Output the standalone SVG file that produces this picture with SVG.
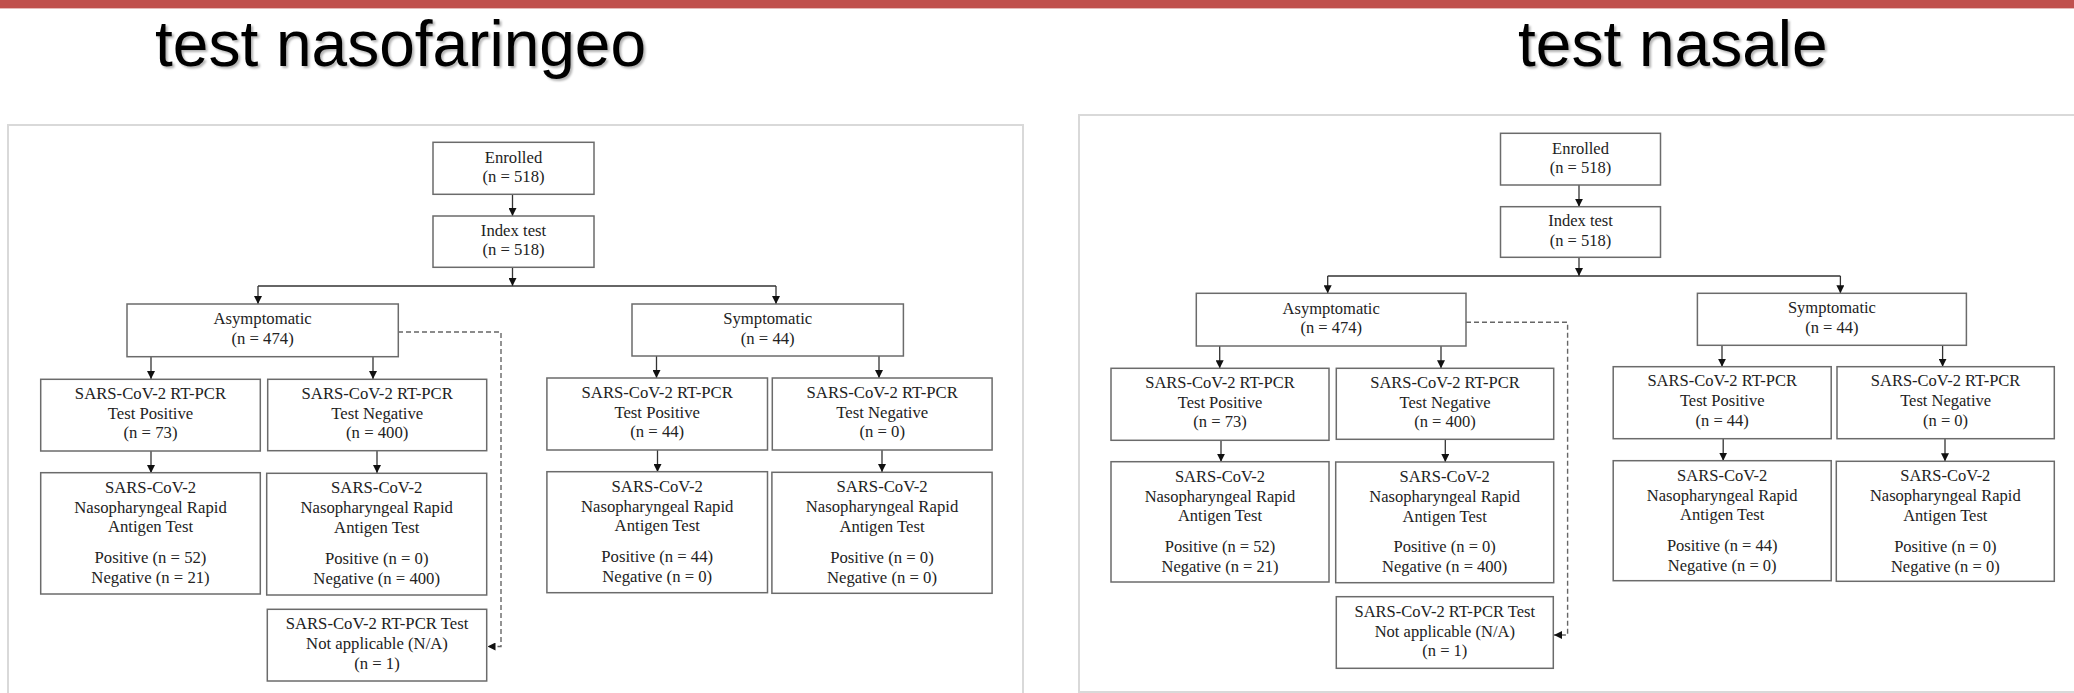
<svg xmlns="http://www.w3.org/2000/svg" width="2074" height="693" viewBox="0 0 2074 693">
<defs>
<style>
.title{font-family:"Liberation Sans",Arial,sans-serif;font-size:64px;fill:#000;}
.frame{fill:none;stroke:#d9d9d9;stroke-width:2;}
.box{fill:#fff;stroke:#6b6b6b;stroke-width:1.5;}
.t{font-family:"Liberation Serif","Times New Roman",serif;font-size:16.7px;fill:#222;text-anchor:middle;}
.tr{font-family:"Liberation Serif","Times New Roman",serif;font-size:16.5px;fill:#222;text-anchor:middle;}
.ln{fill:none;stroke:#333;stroke-width:1.3;}
.dash{fill:none;stroke:#666;stroke-width:1.4;stroke-dasharray:5 3;}
</style>
<marker id="ah" viewBox="0 0 10 10" refX="10" refY="5" markerWidth="8" markerHeight="8" markerUnits="userSpaceOnUse" orient="auto">
<path d="M0,0 L10,5 L0,10 Z" fill="#111"/>
</marker>
<filter id="sh" x="-5%" y="-20%" width="110%" height="150%">
<feDropShadow dx="2" dy="2" stdDeviation="1.2" flood-color="#000" flood-opacity="0.3"/>
</filter>
</defs>
<rect x="0" y="0" width="2074" height="8" fill="#C0504D"/>
<rect x="0" y="8" width="2074" height="1" fill="#E6B9B8"/>
<text class="title" x="155" y="66" filter="url(#sh)">test nasofaringeo</text>
<text class="title" x="1518" y="66" filter="url(#sh)">test nasale</text>
<rect class="frame" x="8" y="125" width="1015" height="600"/>
<rect class="frame" x="1079" y="115" width="1100" height="577"/>

<g id="connectors">
<path class="ln" d="M512.5,194 V216" marker-end="url(#ah)"/>
<path class="ln" d="M512.5,267 V286" marker-end="url(#ah)"/>
<path class="ln" d="M258,286 H776"/>
<path class="ln" d="M258,286 V304" marker-end="url(#ah)"/>
<path class="ln" d="M776,286 V304" marker-end="url(#ah)"/>
<path class="ln" d="M151,356 V379" marker-end="url(#ah)"/>
<path class="ln" d="M373,356 V379" marker-end="url(#ah)"/>
<path class="ln" d="M656.5,356 V378" marker-end="url(#ah)"/>
<path class="ln" d="M879,356 V378" marker-end="url(#ah)"/>
<path class="ln" d="M151,451 V473" marker-end="url(#ah)"/>
<path class="ln" d="M377,451 V473" marker-end="url(#ah)"/>
<path class="ln" d="M657.5,450 V472" marker-end="url(#ah)"/>
<path class="ln" d="M882,450 V472" marker-end="url(#ah)"/>
<path class="dash" d="M398,332 H501 V646.5 H487.5" marker-end="url(#ah)"/>

<path class="ln" d="M1579,185 V206.7" marker-end="url(#ah)"/>
<path class="ln" d="M1579,257.3 V276" marker-end="url(#ah)"/>
<path class="ln" d="M1327.7,276 H1840.4"/>
<path class="ln" d="M1327.7,276 V293.3" marker-end="url(#ah)"/>
<path class="ln" d="M1840.4,276 V293.3" marker-end="url(#ah)"/>
<path class="ln" d="M1219.7,346 V368.3" marker-end="url(#ah)"/>
<path class="ln" d="M1441,346 V368.3" marker-end="url(#ah)"/>
<path class="ln" d="M1722,345.3 V366.7" marker-end="url(#ah)"/>
<path class="ln" d="M1942.6,345.3 V366.7" marker-end="url(#ah)"/>
<path class="ln" d="M1221,440.3 V461.7" marker-end="url(#ah)"/>
<path class="ln" d="M1445.3,439.3 V462" marker-end="url(#ah)"/>
<path class="ln" d="M1723.2,438.7 V460.7" marker-end="url(#ah)"/>
<path class="ln" d="M1945,438.7 V461.3" marker-end="url(#ah)"/>
<path class="dash" d="M1466,322.3 H1567.6 V635 H1554" marker-end="url(#ah)"/>
</g>

<!-- Left diagram -->
<g id="L-enrolled"><rect class="box" x="433" y="142.3" width="161" height="52"/>
<text class="t" x="513.5" y="162.5">Enrolled</text><text class="t" x="513.5" y="182">(n = 518)</text></g>
<g id="L-index"><rect class="box" x="433" y="216" width="161" height="51.3"/>
<text class="t" x="513.5" y="235.7">Index test</text><text class="t" x="513.5" y="255.2">(n = 518)</text></g>
<g id="L-asym"><rect class="box" x="127" y="304" width="271.3" height="52.7"/>
<text class="t" x="262.6" y="324.3">Asymptomatic</text><text class="t" x="262.6" y="343.8">(n = 474)</text></g>
<g id="L-sym"><rect class="box" x="632" y="304" width="271.4" height="52"/>
<text class="t" x="767.7" y="324">Symptomatic</text><text class="t" x="767.7" y="343.5">(n = 44)</text></g>

<g id="L-pcr-pos"><rect class="box" x="40.7" y="379.3" width="219.6" height="71.7"/>
<text class="t" x="150.5" y="398.8">SARS-CoV-2 RT-PCR</text><text class="t" x="150.5" y="418.8">Test Positive</text><text class="t" x="150.5" y="438.3">(n = 73)</text></g>
<g id="L-pcr-neg"><rect class="box" x="267.7" y="379.3" width="219" height="71.4"/>
<text class="t" x="377.2" y="398.8">SARS-CoV-2 RT-PCR</text><text class="t" x="377.2" y="418.8">Test Negative</text><text class="t" x="377.2" y="438.3">(n = 400)</text></g>
<g id="L-sym-pcr-pos"><rect class="box" x="546.9" y="378" width="220.6" height="72"/>
<text class="t" x="657.2" y="397.5">SARS-CoV-2 RT-PCR</text><text class="t" x="657.2" y="417.5">Test Positive</text><text class="t" x="657.2" y="437">(n = 44)</text></g>
<g id="L-sym-pcr-neg"><rect class="box" x="772.3" y="378" width="219.8" height="72"/>
<text class="t" x="882.2" y="397.5">SARS-CoV-2 RT-PCR</text><text class="t" x="882.2" y="417.5">Test Negative</text><text class="t" x="882.2" y="437">(n = 0)</text></g>

<g id="L-rat1"><rect class="box" x="40.7" y="472.7" width="219.6" height="121.3"/>
<text class="t" x="150.5" y="492.7">SARS-CoV-2</text><text class="t" x="150.5" y="512.7">Nasopharyngeal Rapid</text><text class="t" x="150.5" y="532.2">Antigen Test</text><text class="t" x="150.5" y="563.4">Positive (n = 52)</text><text class="t" x="150.5" y="583.4">Negative (n = 21)</text></g>
<g id="L-rat2"><rect class="box" x="266.7" y="473.3" width="220" height="121.7"/>
<text class="t" x="376.7" y="493.3">SARS-CoV-2</text><text class="t" x="376.7" y="513.3">Nasopharyngeal Rapid</text><text class="t" x="376.7" y="532.8">Antigen Test</text><text class="t" x="376.7" y="564">Positive (n = 0)</text><text class="t" x="376.7" y="584">Negative (n = 400)</text></g>
<g id="L-rat3"><rect class="box" x="546.9" y="471.7" width="220.6" height="121"/>
<text class="t" x="657.2" y="491.7">SARS-CoV-2</text><text class="t" x="657.2" y="511.7">Nasopharyngeal Rapid</text><text class="t" x="657.2" y="531.2">Antigen Test</text><text class="t" x="657.2" y="562.4">Positive (n = 44)</text><text class="t" x="657.2" y="582.4">Negative (n = 0)</text></g>
<g id="L-rat4"><rect class="box" x="771.9" y="472.3" width="220.2" height="121"/>
<text class="t" x="882" y="492.3">SARS-CoV-2</text><text class="t" x="882" y="512.3">Nasopharyngeal Rapid</text><text class="t" x="882" y="531.8">Antigen Test</text><text class="t" x="882" y="563">Positive (n = 0)</text><text class="t" x="882" y="583">Negative (n = 0)</text></g>
<g id="L-na"><rect class="box" x="267.3" y="609.3" width="219.4" height="71.7"/>
<text class="t" x="377" y="629.3">SARS-CoV-2 RT-PCR Test</text><text class="t" x="377" y="649.3">Not applicable (N/A)</text><text class="t" x="377" y="668.8">(n = 1)</text></g>

<!-- Right diagram -->
<g id="R-enrolled"><rect class="box" x="1500.5" y="133.3" width="160" height="51.7"/>
<text class="tr" x="1580.5" y="153.5">Enrolled</text><text class="tr" x="1580.5" y="173">(n = 518)</text></g>
<g id="R-index"><rect class="box" x="1500.5" y="206.7" width="160" height="50.6"/>
<text class="tr" x="1580.5" y="226">Index test</text><text class="tr" x="1580.5" y="245.5">(n = 518)</text></g>
<g id="R-asym"><rect class="box" x="1196.3" y="293.3" width="269.7" height="52.7"/>
<text class="tr" x="1331.2" y="313.6">Asymptomatic</text><text class="tr" x="1331.2" y="333.1">(n = 474)</text></g>
<g id="R-sym"><rect class="box" x="1697.4" y="293.3" width="269" height="52"/>
<text class="tr" x="1831.9" y="313.3">Symptomatic</text><text class="tr" x="1831.9" y="332.8">(n = 44)</text></g>

<g id="R-pcr-pos"><rect class="box" x="1111" y="368.3" width="218" height="72"/>
<text class="tr" x="1220" y="387.8">SARS-CoV-2 RT-PCR</text><text class="tr" x="1220" y="407.8">Test Positive</text><text class="tr" x="1220" y="427.3">(n = 73)</text></g>
<g id="R-pcr-neg"><rect class="box" x="1336.3" y="368.3" width="217.4" height="71"/>
<text class="tr" x="1445" y="387.8">SARS-CoV-2 RT-PCR</text><text class="tr" x="1445" y="407.8">Test Negative</text><text class="tr" x="1445" y="427.3">(n = 400)</text></g>
<g id="R-sym-pcr-pos"><rect class="box" x="1613.2" y="366.7" width="218" height="72"/>
<text class="tr" x="1722.2" y="386.2">SARS-CoV-2 RT-PCR</text><text class="tr" x="1722.2" y="406.2">Test Positive</text><text class="tr" x="1722.2" y="425.7">(n = 44)</text></g>
<g id="R-sym-pcr-neg"><rect class="box" x="1837" y="366.7" width="217.3" height="72"/>
<text class="tr" x="1945.6" y="386.2">SARS-CoV-2 RT-PCR</text><text class="tr" x="1945.6" y="406.2">Test Negative</text><text class="tr" x="1945.6" y="425.7">(n = 0)</text></g>

<g id="R-rat1"><rect class="box" x="1111" y="461.7" width="218" height="120.3"/>
<text class="tr" x="1220" y="481.7">SARS-CoV-2</text><text class="tr" x="1220" y="501.7">Nasopharyngeal Rapid</text><text class="tr" x="1220" y="521.2">Antigen Test</text><text class="tr" x="1220" y="552">Positive (n = 52)</text><text class="tr" x="1220" y="572">Negative (n = 21)</text></g>
<g id="R-rat2"><rect class="box" x="1335.7" y="462" width="218" height="120.7"/>
<text class="tr" x="1444.7" y="482">SARS-CoV-2</text><text class="tr" x="1444.7" y="502">Nasopharyngeal Rapid</text><text class="tr" x="1444.7" y="521.5">Antigen Test</text><text class="tr" x="1444.7" y="552.3">Positive (n = 0)</text><text class="tr" x="1444.7" y="572.3">Negative (n = 400)</text></g>
<g id="R-rat3"><rect class="box" x="1613.2" y="460.7" width="218" height="120"/>
<text class="tr" x="1722.2" y="480.7">SARS-CoV-2</text><text class="tr" x="1722.2" y="500.7">Nasopharyngeal Rapid</text><text class="tr" x="1722.2" y="520.2">Antigen Test</text><text class="tr" x="1722.2" y="551">Positive (n = 44)</text><text class="tr" x="1722.2" y="571">Negative (n = 0)</text></g>
<g id="R-rat4"><rect class="box" x="1836.3" y="461.3" width="218" height="120"/>
<text class="tr" x="1945.3" y="481.3">SARS-CoV-2</text><text class="tr" x="1945.3" y="501.3">Nasopharyngeal Rapid</text><text class="tr" x="1945.3" y="520.8">Antigen Test</text><text class="tr" x="1945.3" y="551.6">Positive (n = 0)</text><text class="tr" x="1945.3" y="571.6">Negative (n = 0)</text></g>
<g id="R-na"><rect class="box" x="1336.3" y="596.7" width="217" height="71.6"/>
<text class="tr" x="1444.8" y="616.7">SARS-CoV-2 RT-PCR Test</text><text class="tr" x="1444.8" y="636.7">Not applicable (N/A)</text><text class="tr" x="1444.8" y="656.2">(n = 1)</text></g>
</svg>
